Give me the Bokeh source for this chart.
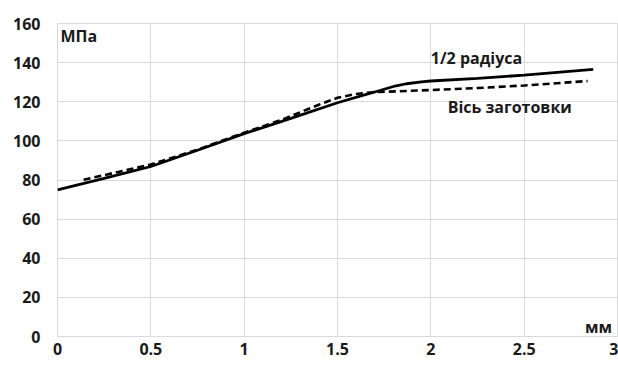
from bokeh.plotting import figure
from bokeh.models import Range1d, FixedTicker, Label
from bokeh.embed import file_html
from bokeh.resources import INLINE

# Distance from the surface, mm
half_radius_x = [0, 0.25, 0.5, 0.75, 1.0, 1.25, 1.5, 1.7, 1.8, 1.87, 1.95, 2.0, 2.25, 2.5, 2.87]
# Stress at 1/2 radius, MPa
half_radius_y = [75, 80.8, 86.9, 95.2, 103.7, 111.5, 119.5, 125.0, 127.8, 129.2, 130.2, 130.6, 132.0, 133.6, 136.5]

axis_x = [0.14, 0.25, 0.5, 0.75, 1.0, 1.2, 1.4, 1.5, 1.6, 1.7, 2.0, 2.25, 2.5, 2.84]
# Stress on the billet axis, MPa
axis_y = [80.1, 82.5, 87.9, 95.5, 104.2, 110.7, 118.5, 122.0, 124.0, 124.9, 126.0, 127.0, 128.3, 130.6]

x_ticks = [0, 0.5, 1, 1.5, 2, 2.5, 3]
x_tick_labels = ["0", "0.5", "1", "1.5", "2", "2.5", "3"]
y_ticks = [0, 20, 40, 60, 80, 100, 120, 140, 160]

FONT = "Open Sans"
GRID = "#d9d9d9"

p = figure(
    width=618, height=365,
    x_range=Range1d(0, 3), y_range=Range1d(0, 160),
    output_backend="svg", toolbar_location=None,
    min_border_left=57, min_border_right=1,
    min_border_top=23, min_border_bottom=29,
    background_fill_color="white", border_fill_color="white",
    outline_line_color=GRID, outline_line_width=1,
)

p.xaxis.ticker = FixedTicker(ticks=x_ticks)
p.xaxis.major_label_overrides = {t: s for t, s in zip(x_ticks, x_tick_labels)}
p.yaxis.ticker = FixedTicker(ticks=y_ticks)

for ax in (p.xaxis[0], p.yaxis[0]):
    ax.axis_line_color = None
    ax.major_tick_line_color = None
    ax.minor_tick_line_color = None
    ax.major_tick_out = 0
    ax.major_tick_in = 0
    ax.major_label_text_font = FONT
    ax.major_label_text_font_style = "bold"
    ax.major_label_text_font_size = "16px"
    ax.major_label_text_color = "#1a1a1a"
p.xaxis.major_label_standoff = 6
p.yaxis.major_label_standoff = 17

p.xgrid.ticker = FixedTicker(ticks=x_ticks)
p.ygrid.ticker = FixedTicker(ticks=y_ticks)
p.grid.grid_line_color = GRID
p.grid.grid_line_width = 1

p.line(half_radius_x, half_radius_y, line_color="black", line_width=2.8)
p.line(axis_x, axis_y, line_color="black", line_width=2.6, line_dash="7 4")

def note(x, y, text, align="left", size="16px"):
    p.add_layout(Label(
        x=x, y=y, text=text,
        text_font=FONT, text_font_style="bold", text_font_size=size,
        text_color="#1a1a1a", text_align=align, text_baseline="middle",
    ))

note(2.0, 142.6, "1/2 радіуса")
note(2.09, 117.1, "Вісь заготовки")
note(0.016, 153.4, "МПа")
note(2.97, 5.1, "мм", align="right")

open("out.html", "w").write(file_html(p, INLINE))
